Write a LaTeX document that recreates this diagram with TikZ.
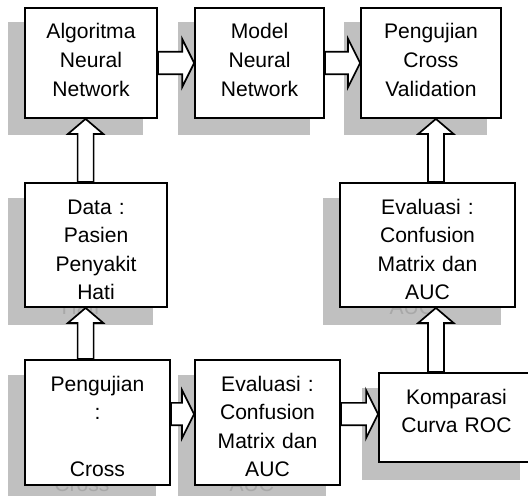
\documentclass[tikz,border=0pt]{standalone}
\usepackage{fontspec}
\setmainfont{Liberation Sans}
\usetikzlibrary{calc,backgrounds}

\definecolor{shadowgray}{HTML}{C0C0C0}
\definecolor{ghostgray}{HTML}{A8A8A8}

\tikzset{
  stepbox/.style={draw, line width=1.3pt, fill=white, inner sep=0pt, align=center,
    text height=0.775cm, font=\fontsize{15pt}{20.3pt}\selectfont},
  shadowbox/.style={fill=shadowgray, text=ghostgray, inner sep=0pt, align=center,
    text height=0.775cm, font=\fontsize{15pt}{20.3pt}\selectfont},
  fatarrow/.style n args={3}{draw, line width=1.2pt, fill=white,
    to path={let \p1=(\tikztostart), \p2=(\tikztotarget),
      \n1={atan2(\y2-\y1,\x2-\x1)} in
      ($(\p1)+(\n1+90:#1)$) -- ($(\p2)+(\n1:-#3)+(\n1+90:#1)$)
      -- ($(\p2)+(\n1:-#3)+(\n1+90:#2)$) -- (\p2)
      -- ($(\p2)+(\n1:-#3)+(\n1-90:#2)$) -- ($(\p2)+(\n1:-#3)+(\n1-90:#1)$)
      -- ($(\p1)+(\n1-90:#1)$) -- cycle}},
  harrow/.style={fatarrow={0.28cm}{0.6cm}{0.3cm}},
  varrow/.style={fatarrow={0.2cm}{0.44cm}{0.375cm}},
}

\begin{document}
\begin{tikzpicture}
  \useasboundingbox (0,0) rectangle (13.2,12.375);
  \clip (0,0) rectangle (13.2,12.375);

  % top row
  \node[stepbox, text width=3.3cm, text depth=1.975cm] (alg) at (2.275,10.8) {Algoritma\\Neural\\Network};
  \node[stepbox, text width=3.225cm, text depth=1.975cm] (model) at (6.49,10.8) {Model\\Neural\\Network};
  \node[stepbox, text width=3.5cm, text depth=1.975cm] (cv) at (10.775,10.8) {Pengujian\\Cross\\Validation};

  % middle row
  \node[stepbox, text width=3.55cm, text depth=2.325cm] (data) at (2.4,6.25) {Data :\\Pasien\\Penyakit\\Hati};
  \node[stepbox, text width=4.375cm, text depth=2.325cm] (evalb) at (10.6875,6.25) {Evaluasi :\\Confusion\\Matrix dan\\AUC};

  % bottom row
  \node[stepbox, text width=3.625cm, text depth=2.35cm] (uji) at (2.4375,1.8125) {Pengujian\\:\\~\\Cross};
  \node[stepbox, text width=3.625cm, text depth=2.35cm] (evala) at (6.6875,1.8125) {Evaluasi :\\Confusion\\Matrix dan\\AUC};
  \node[stepbox, text width=3.875cm, text depth=1.45cm] (roc) at (11.4125,1.9375) {Komparasi\\Curva ROC};

  % shadows (only the last lines peep out below the boxes)
  \begin{scope}[on background layer]
    \node[shadowbox, text width=3.375cm, text depth=2.05cm] (algs) at ([shift={(-0.39,-0.4)}]alg) {};
    \node[shadowbox, text width=3.3cm, text depth=2.05cm] (models) at ([shift={(-0.39,-0.4)}]model) {};
    \node[shadowbox, text width=3.575cm, text depth=2.05cm] (cvs) at ([shift={(-0.39,-0.4)}]cv) {};
    \node[shadowbox, text width=3.625cm, text depth=2.4cm] (datas) at ([shift={(-0.39,-0.4)}]data) {~\\~\\~\\Hati};
    \node[shadowbox, text width=4.45cm, text depth=2.4cm] (evalbs) at ([shift={(-0.39,-0.4)}]evalb) {~\\~\\~\\AUC};
    \node[shadowbox, text width=3.7cm, text depth=2.425cm] (ujis) at ([shift={(-0.39,-0.4)}]uji) {~\\~\\~\\Cross};
    \node[shadowbox, text width=3.7cm, text depth=2.425cm] (evalas) at ([shift={(-0.39,-0.4)}]evala) {~\\~\\~\\AUC};
    \node[shadowbox, text width=3.95cm, text depth=1.525cm] (rocs) at ([shift={(-0.39,-0.4)}]roc) {};
  \end{scope}

  % arrows
  \draw[harrow] (alg.east) to (model.west);
  \draw[harrow] (model.east) to (cv.west);
  \draw[varrow] ([xshift=-0.26cm]data.north) to ([xshift=-0.26cm]data.north |- alg.south);
  \draw[varrow] ([xshift=-0.26cm]data.south |- uji.north) to ([xshift=-0.26cm]data.south);
  \draw[harrow] ([yshift=0.21cm]uji.east) to ([yshift=0.21cm]evala.west);
  \draw[harrow] ([yshift=0.21cm]evala.east) to ([yshift=0.21cm]evala.east -| roc.west);
  \draw[varrow] ([xshift=0.21cm]evalb.south |- roc.north) to ([xshift=0.21cm]evalb.south);
  \draw[varrow] ([xshift=0.21cm]evalb.north) to ([xshift=0.21cm]evalb.north |- cv.south);
\end{tikzpicture}
\end{document}
